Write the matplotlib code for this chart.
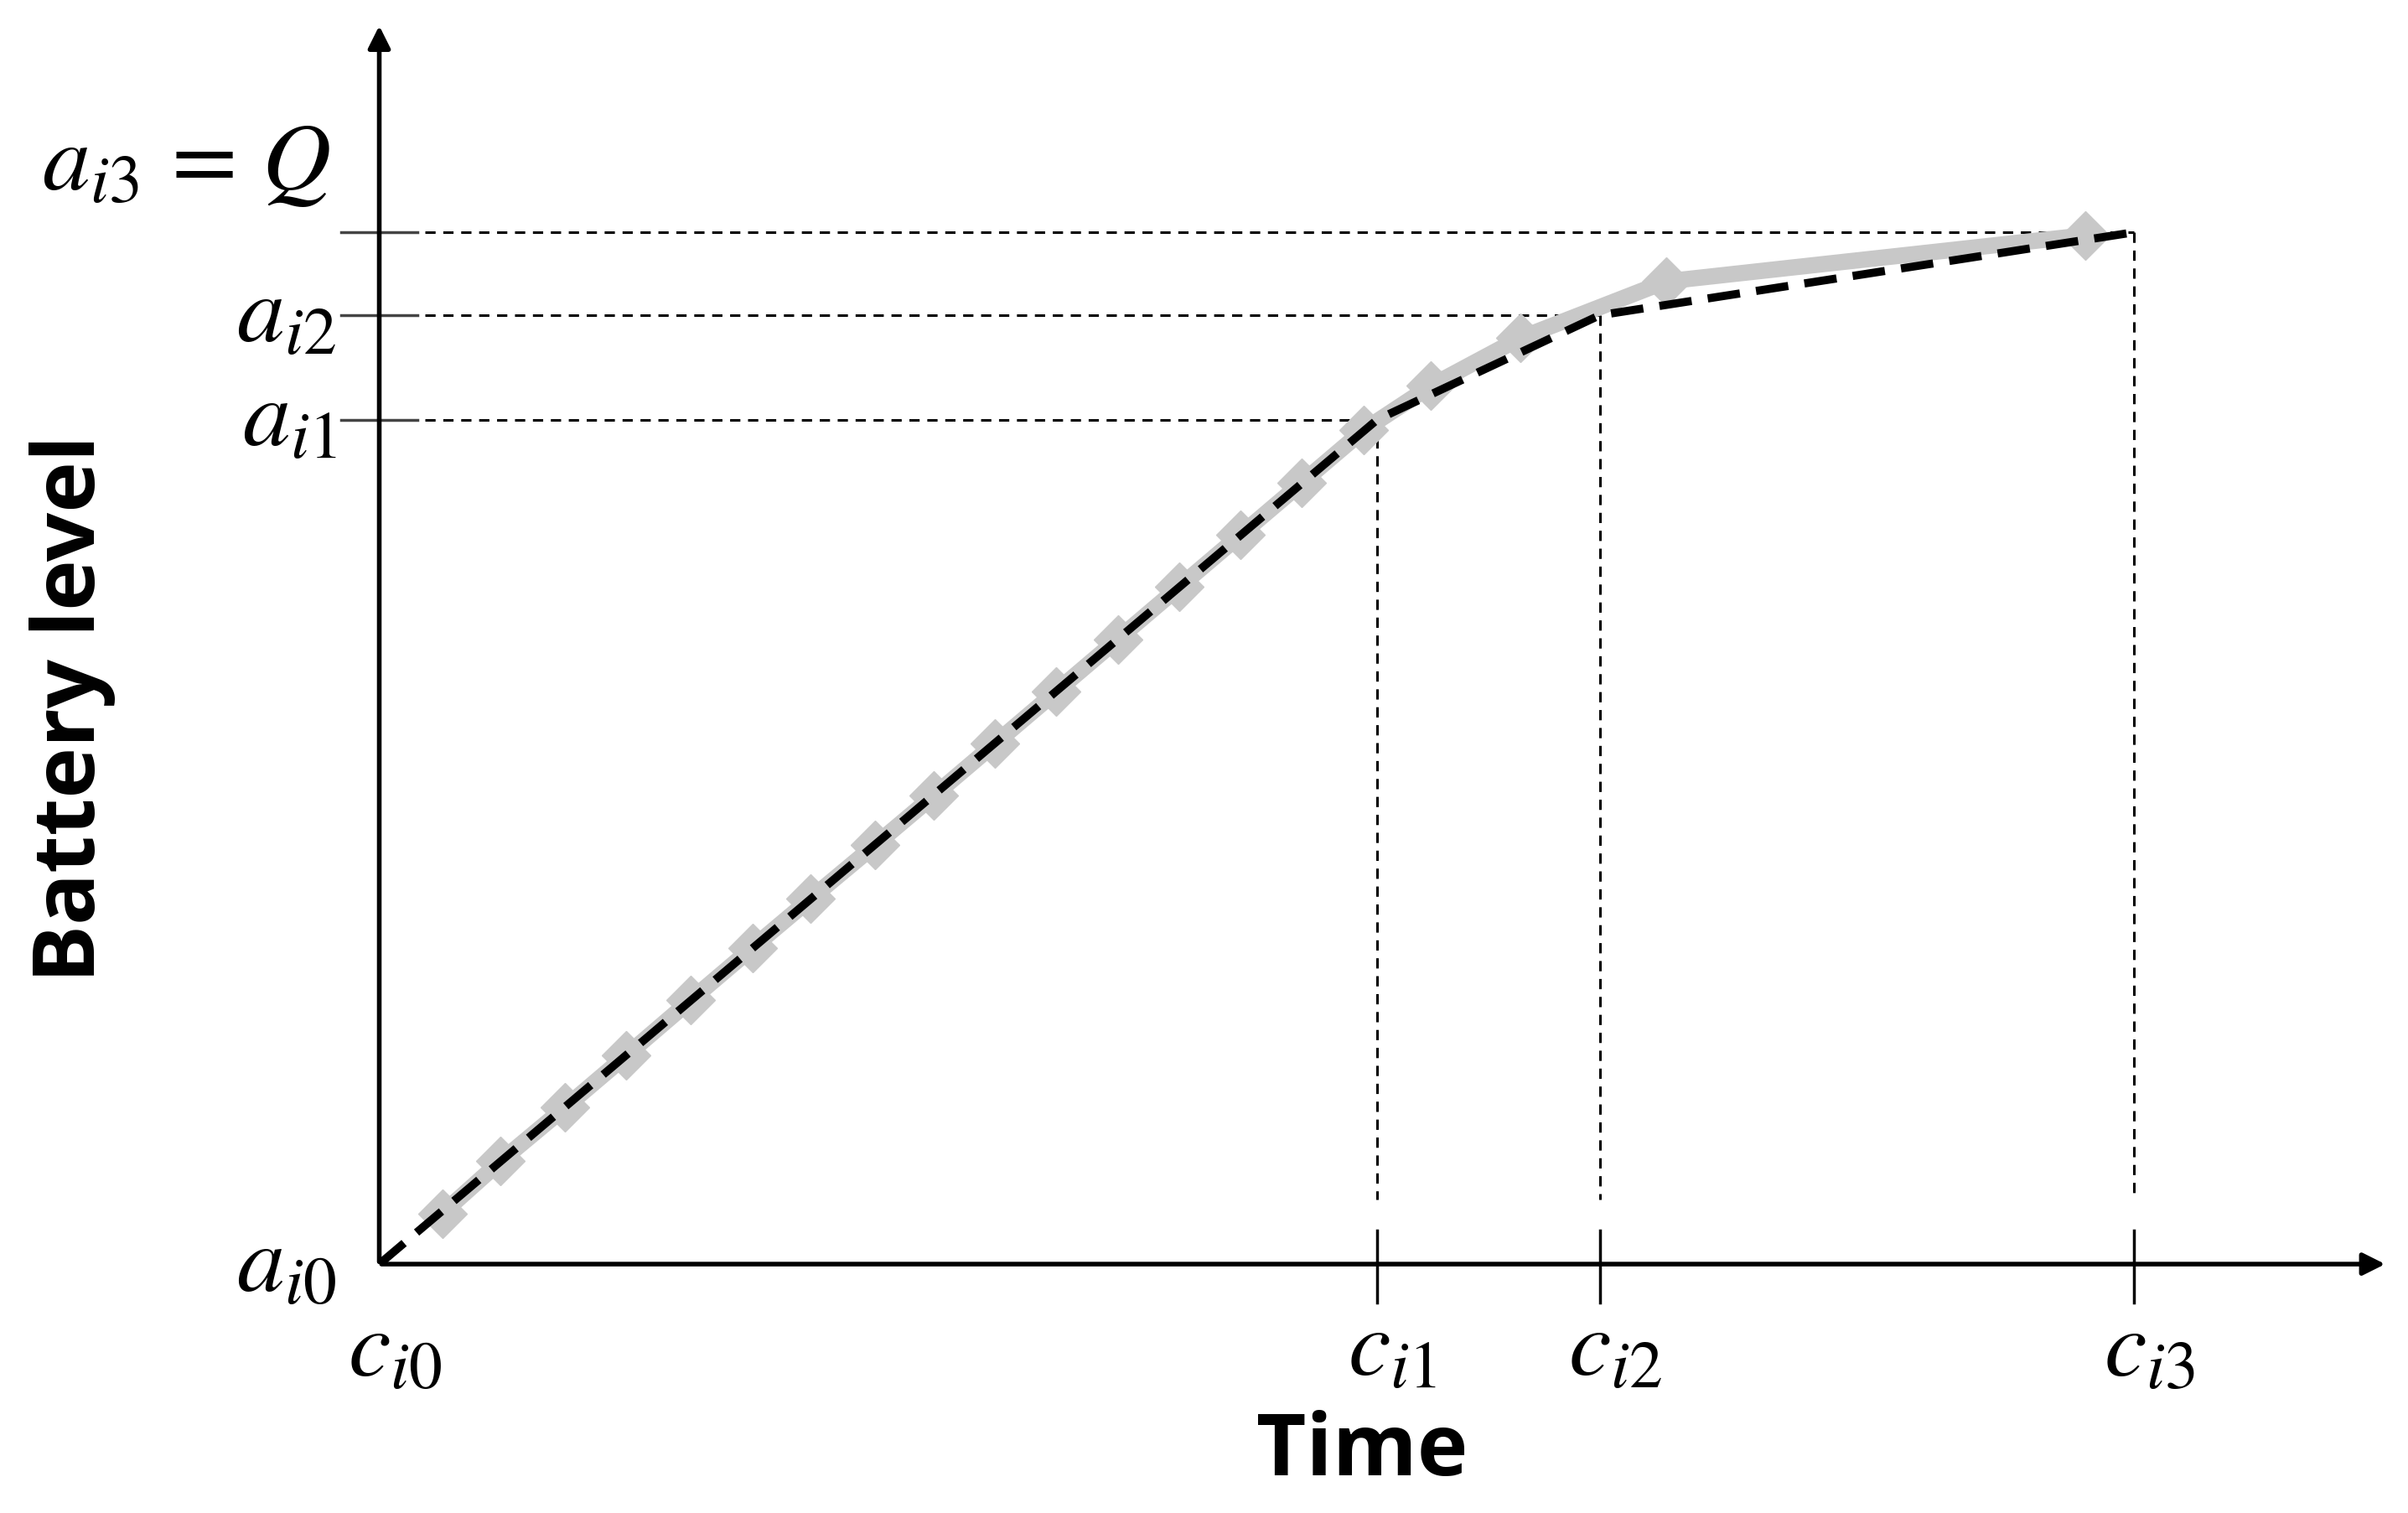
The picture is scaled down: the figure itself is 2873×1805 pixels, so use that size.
import matplotlib.pyplot as plt

plt.rcParams['mathtext.fontset'] = 'stix'

# breakpoints of the piecewise-linear charging curve
c_vals = [0, 650, 795, 1143]
a_vals = [0, 550, 618, 672]
c_labels = [r'$c_{i0}$', r'$c_{i1}$', r'$c_{i2}$', r'$c_{i3}$']
a_labels = [r'$a_{i0}$', r'$a_{i1}$', r'$a_{i2}$']
q_label = r'$a_{i3}\,=\,Q$'

# sampled (gray diamond) points
gx = [41, 79, 121, 161, 203, 243, 281, 323, 361, 401, 441, 481, 521, 561, 601, 641, 685, 743, 838, 1111]
gy = [33, 67, 102, 136, 172, 206, 238, 273, 305, 339, 373, 407, 441, 475, 509, 543, 572, 603, 640, 670]

fig = plt.figure(figsize=(28.73, 18.05), dpi=100)
ax = fig.add_axes([0.1575, 0.1645, 0.834, 0.820])
ax.set_xlim(0, 1308)
ax.set_ylim(0, 808)
ax.axis('off')

# axes arrows
ax.annotate('', xy=(1308, 0), xytext=(0, 0), annotation_clip=False,
            arrowprops=dict(arrowstyle='-|>', color='black', lw=4, mutation_scale=40))
ax.annotate('', xy=(0, 808), xytext=(0, 0), annotation_clip=False,
            arrowprops=dict(arrowstyle='-|>', color='black', lw=4, mutation_scale=40))

# gray sampled curve
ax.plot(gx, gy, color='#c8c8c8', lw=14, marker='D', ms=30, zorder=2, solid_capstyle='round')
# dashed piecewise-linear approximation
ax.plot(c_vals, a_vals, color='black', lw=7, ls=(0, (4, 2)), zorder=3)

# guide lines
for c, a in zip(c_vals[1:], a_vals[1:]):
    ax.plot([30, c], [a, a], color='black', lw=2.2, ls=(0, (4, 3)), zorder=1)
    ax.plot([c, c], [a, 42], color='black', lw=2.2, ls=(0, (4, 3)), zorder=1)
    ax.plot([c, c], [22, -25], color='black', lw=2.5, clip_on=False)
    ax.plot([-25, 25], [a, a], color='#444444', lw=2.5, clip_on=False)

for c, lab in zip(c_vals, c_labels):
    ax.text(c + 10, -25, lab, fontsize=82, ha='center', va='top')
for a, lab in zip(a_vals, a_labels):
    ax.text(-28, a, lab, fontsize=82, ha='right', va='center')
ax.text(-32, a_vals[3] + 45, q_label, fontsize=82, ha='right', va='center')

ax.text(640, -95, 'Time', fontsize=74, fontweight='bold', family='Open Sans',
        ha='center', va='top')
ax.text(-200, 362, 'Battery level', fontsize=74, fontweight='bold', family='Open Sans',
        ha='center', va='center', rotation=90)

fig.savefig('out.png', dpi=100)
